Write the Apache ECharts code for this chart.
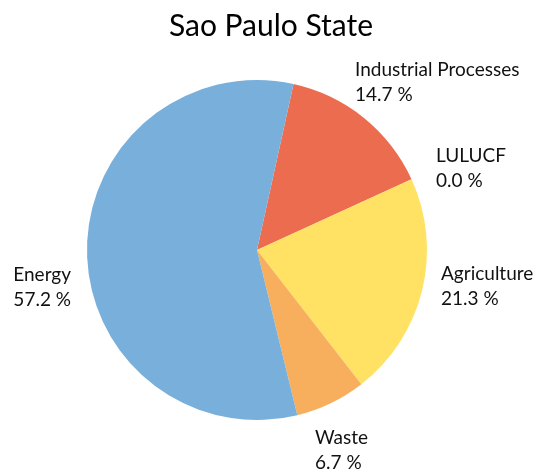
<!DOCTYPE html>
<html>
<head>
<meta charset="utf-8">
<script src="https://cdn.jsdelivr.net/npm/echarts@6/dist/echarts.min.js"></script>
<style>html,body{margin:0;padding:0;background:#fff;}#c{width:542px;height:475px;}</style>
</head>
<body>
<div id="c"></div>
<script>
var categories = ['Industrial Processes', 'LULUCF', 'Agriculture', 'Waste', 'Energy'];
var values = [14.7, 0.0, 21.3, 6.7, 57.2];
var colors = ['#EC6C50', '#B5B5B5', '#FFE264', '#F7AF5D', '#79AFDB'];
var titleText = 'Sao Paulo State';

var labelPos = [
  {x: 355, y: 82, align: 'left'},
  {x: 436, y: 168, align: 'left'},
  {x: 441, y: 286, align: 'left'},
  {x: 315, y: 450, align: 'left'},
  {x: 71, y: 287, align: 'right'}
];

var chart = echarts.init(document.getElementById('c'), null, {renderer: 'canvas'});
chart.setOption({
  animation: false,
  backgroundColor: '#fff',
  title: {
    text: titleText, left: 'center', top: 6,
    textStyle: {fontFamily: 'Lato', fontSize: 30, fontWeight: 'normal', color: '#000'}
  },
  series: [{
    type: 'pie',
    center: [257, 250],
    radius: [0, 170],
    startAngle: 77.6,
    clockwise: true,
    minAngle: 0,
    avoidLabelOverlap: false,
    stillShowZeroSum: true,
    data: categories.map(function (c, i) {
      return {name: c, value: values[i], itemStyle: {color: colors[i]}};
    }),
    label: {
      show: true,
      position: 'outside',
      formatter: function (p) { return p.name + '\n' + p.value.toFixed(1) + ' %'; },
      fontFamily: 'Lato', fontSize: 19, lineHeight: 25, color: '#111'
    },
    labelLine: {show: false},
    labelLayout: function (params) {
      var p = labelPos[params.dataIndex];
      return {x: p.x, y: p.y, align: p.align, verticalAlign: 'middle', hideOverlap: false};
    },
    emphasis: {disabled: true}
  }]
});
</script>
</body>
</html>
